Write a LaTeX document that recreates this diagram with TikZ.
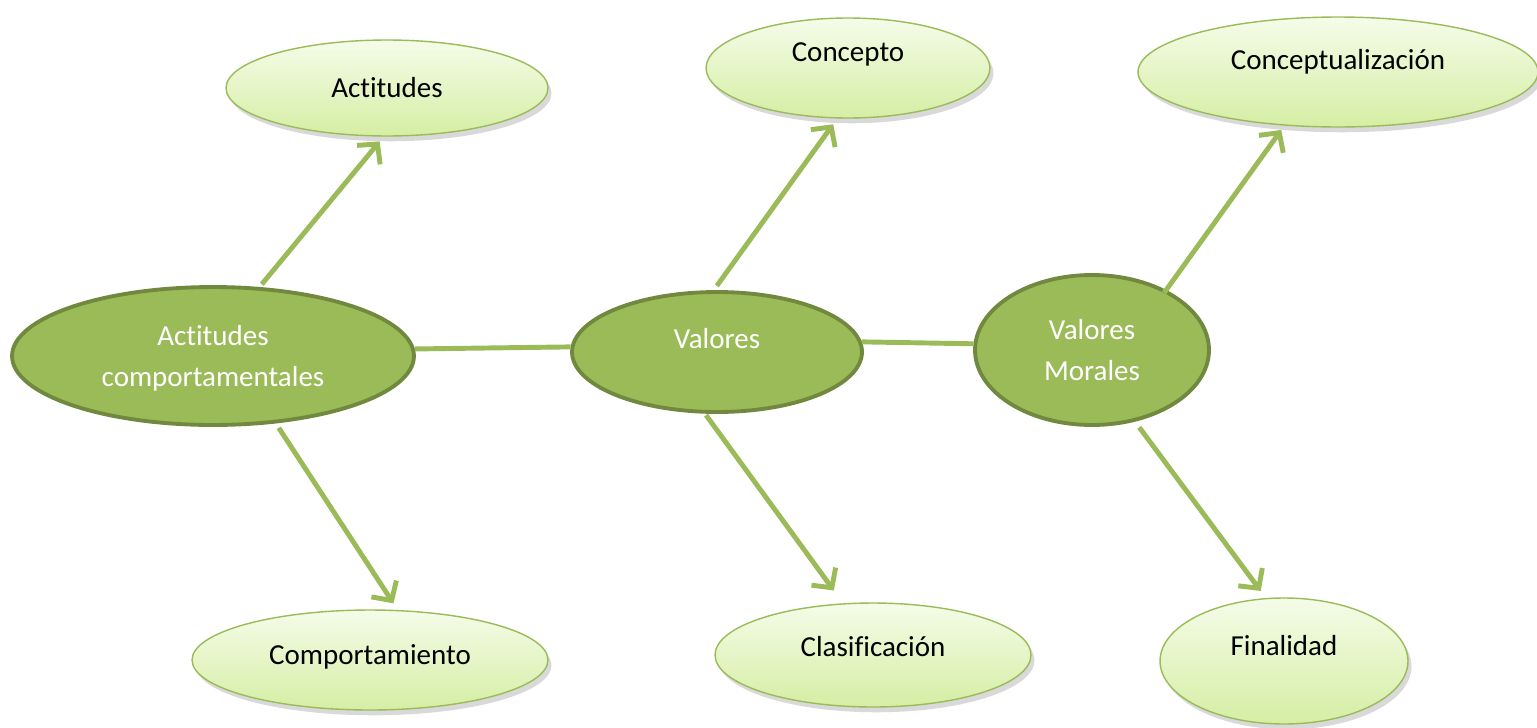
\documentclass[tikz,border=0pt]{standalone}
\usepackage{fontspec}
\setmainfont{Carlito}[Ligatures=NoCommon]
\usetikzlibrary{shapes.geometric,arrows.meta,shadows}

\definecolor{leaf}{HTML}{9BBB59}
\definecolor{darkleaf}{HTML}{71893F}
\definecolor{paleleaf}{HTML}{F5FCE9}
\definecolor{softleaf}{HTML}{D5EEA4}

\tikzset{
    mainidea/.style={ellipse,draw=darkleaf,line width=2.2pt,fill=leaf,text=white,
        inner sep=0pt,align=center,font=\fontsize{16.5}{23}\selectfont},
    subidea/.style={ellipse,draw=leaf,line width=0.8pt,top color=paleleaf,bottom color=softleaf,
        inner sep=0pt,font=\fontsize{16.5}{20}\selectfont,
        drop shadow={shadow xshift=2pt,shadow yshift=-3pt,opacity=0.25,fill=black!60}},
    lift/.style={text depth=#1},
    link/.style={draw=leaf,line width=2.8pt},
    arrowlink/.style={link,-{Straight Barb[length=8pt,width=17pt]}}
}

\begin{document}
\begin{tikzpicture}[x=0.02cm,y=-0.02cm]
    \useasboundingbox (0,0) rectangle (1537,727);

    % main ideas
    \node (ac) at (213,356) [mainidea,minimum width=8.04cm,minimum height=2.76cm,lift=0pt] {Actitudes\\comportamentales};
    \node (val) at (717,352) [mainidea,minimum width=5.8cm,minimum height=2.4cm,lift=0.56cm] {Valores};
    \node (vm) at (1092,350) [mainidea,minimum width=4.68cm,minimum height=3cm] {Valores\\Morales};

    % sub ideas
    \node (act) at (387,88) [subidea,minimum width=6.44cm,minimum height=1.92cm] {Actitudes};
    \node (comp) at (370,660) [subidea,minimum width=7.12cm,minimum height=2cm,lift=0.22cm] {Comportamiento};
    \node (con) at (848,68) [subidea,minimum width=5.68cm,minimum height=2cm,lift=0.62cm] {Concepto};
    \node (cla) at (873,655) [subidea,minimum width=6.32cm,minimum height=2.08cm,lift=0.34cm] {Clasificación};
    \node (cpt) at (1338,72) [subidea,minimum width=8cm,minimum height=2.2cm,lift=0.5cm] {Conceptualización};
    \node (fin) at (1284,661) [subidea,minimum width=4.96cm,minimum height=2.52cm,lift=0.62cm] {Finalidad};

    \draw[link] (ac.2) -- (val.178) (val.4) -- (vm.177);

    \draw[arrowlink,shorten <=2pt,shorten >=3.5pt] (ac.56) -- (act.-94);
    \draw[arrowlink,shorten <=3pt,shorten >=4.5pt] (ac.-47) -- (comp.61);
    \draw[arrowlink,shorten <=3pt,shorten >=4pt] (val.93) -- (con.-102);
    \draw[arrowlink,shorten <=1pt,shorten >=9pt] (val.-101) -- (cla.120);
    \draw[arrowlink,shorten <=-2pt,shorten >=3pt] (vm.39) -- (cpt.-135);
    \draw[arrowlink,shorten <=4pt,shorten >=5pt] (vm.-59) -- (fin.106);
\end{tikzpicture}
\end{document}
